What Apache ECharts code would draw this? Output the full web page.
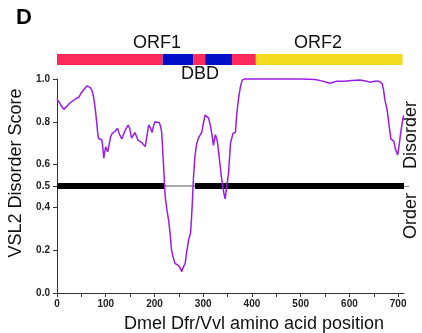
<!DOCTYPE html>
<html>
<head>
<meta charset="utf-8">
<script src="https://cdn.jsdelivr.net/npm/echarts@6/dist/echarts.min.js"></script>
<style>
  html, body { margin: 0; padding: 0; background: #fff; }
  #chart { width: 422px; height: 333px; }
</style>
</head>
<body>
<div id="chart"></div>
<script>
// VSL2 disorder score along the protein
const positions = [
  0, 5, 10, 14, 20, 27, 34, 40, 45, 49, 55, 61, 65, 68, 72, 75, 78, 81, 83, 85,
  88, 92, 94, 96, 98, 100, 102, 104, 107, 110, 113, 116, 120, 124, 127, 129, 133, 137, 141, 146,
  149, 153, 157, 160, 164, 166, 170, 175, 181, 185, 188, 192, 195, 198, 201, 205, 210, 213, 215, 218,
  222, 226, 229, 232, 235, 238, 242, 245, 248, 252, 256, 259, 263, 266, 270, 274, 276, 278, 280, 283,
  286, 290, 294, 297, 300, 304, 308, 311, 314, 318, 321, 325, 329, 332, 335, 338, 340, 343, 345, 348,
  352, 356, 361, 366, 369, 372, 376, 380, 385, 400, 430, 460, 500, 530, 545, 560, 567, 574, 590, 605,
  622, 635, 643, 652, 660, 667, 670, 673, 677, 680, 685, 688, 691, 695, 699, 702, 705, 708, 711
]
const scores = [
  0.906, 0.89, 0.87, 0.858, 0.872, 0.889, 0.90, 0.91, 0.915, 0.933, 0.95, 0.967, 0.968, 0.961, 0.945, 0.917, 0.87, 0.808, 0.76, 0.723,
  0.715, 0.715, 0.68, 0.63, 0.66, 0.684, 0.67, 0.66, 0.695, 0.73, 0.745, 0.754, 0.758, 0.77, 0.75, 0.738, 0.72, 0.745, 0.765, 0.785,
  0.77, 0.724, 0.73, 0.75, 0.75, 0.715, 0.715, 0.70, 0.684, 0.74, 0.785, 0.77, 0.75, 0.78, 0.80, 0.805, 0.796, 0.775, 0.746, 0.62,
  0.45, 0.38, 0.34, 0.28, 0.20, 0.17, 0.139, 0.145, 0.13, 0.12, 0.10, 0.12, 0.139, 0.19, 0.248, 0.28, 0.35, 0.435, 0.54, 0.637,
  0.69, 0.723, 0.74, 0.75, 0.79, 0.832, 0.825, 0.817, 0.79, 0.74, 0.69, 0.74, 0.71, 0.65, 0.59, 0.53, 0.50, 0.46, 0.44, 0.49,
  0.56, 0.70, 0.746, 0.75, 0.84, 0.90, 0.96, 0.995, 1.0, 1.0, 1.0, 1.0, 1.0, 0.998, 0.99, 0.98, 0.985, 0.99, 0.99, 0.993,
  0.995, 0.99, 0.985, 0.99, 0.99, 0.98, 0.95, 0.90, 0.86, 0.81, 0.72, 0.72, 0.71, 0.668, 0.645, 0.69, 0.746, 0.79, 0.83
]

// 0.5 order/disorder threshold, thick where the score stays on one side
const threshold = 0.5
const thickSpans = [[0, 220], [283, 712]]
const thinSpans = [[220, 283]]

// domain bar above the plot (residue boundaries)
const domainBreaks = [0, 217, 280, 304, 359, 408, 709]
const domainNames = ['ORF1a', 'DBD1', 'ORF1b', 'DBD2', 'ORF1c', 'ORF2']

const xTicks = [0, 100, 200, 300, 400, 500, 600, 700]
const xMinorTicks = [0, 50, 100, 150, 200, 250, 300, 350, 400, 450, 500, 550, 600, 650, 700]
const yTicks = [0, 0.2, 0.4, 0.5, 0.6, 0.8, 1.0]
const xMax = 712

const domainColors = ['#ff2a5c', '#0010c8', '#ff2a5c', '#0010c8', '#ff2a5c', '#f2da1e']
const font = '"Liberation Sans", Arial, sans-serif'

const chart = echarts.init(document.getElementById('chart'), null, { renderer: 'canvas' })

const spanSeries = (spans, width, color) => spans.map(s => ({
  type: 'line',
  xAxisIndex: 0,
  yAxisIndex: 0,
  symbol: 'none',
  silent: true,
  z: 1,
  lineStyle: { width, color },
  data: [[s[0], threshold], [s[1], threshold]],
}))

const domainSeries = domainNames.map((name, i) => ({
  name,
  type: 'bar',
  xAxisIndex: 1,
  yAxisIndex: 2,
  stack: 'domains',
  barWidth: 11,
  silent: true,
  itemStyle: { color: domainColors[i] },
  data: [domainBreaks[i + 1] - domainBreaks[i]],
}))

const axisColor = '#333'

const option = {
  animation: false,
  backgroundColor: '#fff',
  grid: [
    { left: 57, right: 18, top: 79, bottom: 40 },
    { left: 57, right: 18, top: 54, height: 11 },
  ],
  xAxis: [
    {
      type: 'value',
      gridIndex: 0,
      min: 0,
      max: xMax,
      splitLine: { show: false },
      axisLine: { lineStyle: { color: axisColor, width: 1 } },
      axisTick: { show: true, length: 4, customValues: xMinorTicks, lineStyle: { color: axisColor } },
      axisLabel: {
        customValues: xTicks,
        margin: 6,
        color: '#222',
        fontFamily: font,
        fontSize: 10,
        fontWeight: 'bold',
      },
    },
    {
      type: 'value',
      gridIndex: 1,
      min: 0,
      max: xMax,
      show: false,
    },
  ],
  yAxis: [
    {
      type: 'value',
      gridIndex: 0,
      min: 0,
      max: 1,
      splitLine: { show: false },
      axisLine: { show: true, lineStyle: { color: axisColor, width: 1 } },
      axisTick: { show: true, length: 4, customValues: yTicks, lineStyle: { color: axisColor } },
      axisLabel: {
        customValues: yTicks,
        margin: 7,
        color: '#222',
        fontFamily: font,
        fontSize: 10,
        fontWeight: 'bold',
        formatter: v => v.toFixed(1),
      },
    },
    {
      type: 'value',
      gridIndex: 0,
      position: 'right',
      min: 0,
      max: 1,
      splitLine: { show: false },
      axisLine: { show: false },
      axisTick: { show: true, inside: false, length: 5, customValues: [threshold], lineStyle: { color: '#888' } },
      axisLabel: { show: false },
    },
    {
      type: 'category',
      gridIndex: 1,
      data: ['domains'],
      show: false,
    },
  ],
  graphic: [
    { type: 'text', left: 16, top: 7, style: { text: 'D', font: 'bold 22px ' + font, fill: '#000' } },
    { type: 'text', x: 157, y: 43, style: { text: 'ORF1', font: '18px ' + font, fill: '#111', align: 'center', verticalAlign: 'middle' } },
    { type: 'text', x: 318, y: 43, style: { text: 'ORF2', font: '18px ' + font, fill: '#111', align: 'center', verticalAlign: 'middle' } },
    { type: 'text', x: 200, y: 74, style: { text: 'DBD', font: '18px ' + font, fill: '#111', align: 'center', verticalAlign: 'middle' } },
    { type: 'text', x: 16, y: 173, rotation: Math.PI / 2, style: { text: 'VSL2 Disorder Score', font: '18px ' + font, fill: '#111', align: 'center', verticalAlign: 'middle' } },
    { type: 'text', x: 254, y: 324, style: { text: 'Dmel Dfr/Vvl amino acid position', font: '18px ' + font, fill: '#111', align: 'center', verticalAlign: 'middle' } },
    { type: 'text', x: 411, y: 135, rotation: Math.PI / 2, style: { text: 'Disorder', font: '18px ' + font, fill: '#111', align: 'center', verticalAlign: 'middle' } },
    { type: 'text', x: 411, y: 216, rotation: Math.PI / 2, style: { text: 'Order', font: '18px ' + font, fill: '#111', align: 'center', verticalAlign: 'middle' } },
  ],
  series: [
    ...spanSeries(thickSpans, 6, '#000'),
    ...spanSeries(thinSpans, 1, '#555'),
    {
      name: 'VSL2',
      type: 'line',
      xAxisIndex: 0,
      yAxisIndex: 0,
      symbol: 'none',
      z: 3,
      clip: false,
      lineStyle: { width: 1.5, color: '#9a1de6' },
      data: positions.map((p, i) => [p, scores[i]]),
    },
    ...domainSeries,
  ],
}

chart.setOption(option)
</script>
</body>
</html>
